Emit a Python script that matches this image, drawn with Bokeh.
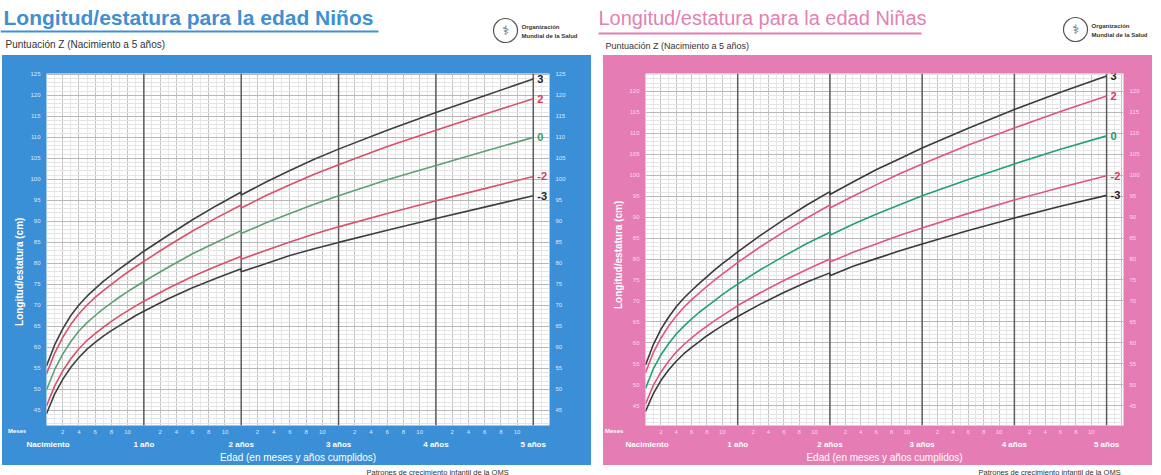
import math
from bokeh.plotting import figure
from bokeh.models import (Range1d, LinearAxis, FixedTicker, Grid, Span, Label,
                          Spacer, ColumnDataSource)
from bokeh.layouts import row, column
from bokeh.core.properties import value
from bokeh.embed import file_html
from bokeh.resources import INLINE

# ---------------- data (WHO length/height-for-age) ----------------
MONTHS = [0, 1, 2, 3, 4, 5, 6, 7, 8, 9, 10, 11, 12, 15, 18, 21, 24, 24, 27, 30, 33, 36, 42, 48, 54, 60]

BOYS_M3 = [44.2, 48.9, 52.4, 55.3, 57.6, 59.6, 61.2, 62.7, 64.0, 65.2, 66.4, 67.6, 68.6, 71.6, 74.2, 76.5,
           78.7, 78.0, 79.9, 81.9, 83.5, 85.0, 87.9, 90.7, 93.4, 96.1]
BOYS_M2 = [46.1, 50.8, 54.4, 57.3, 59.7, 61.7, 63.3, 64.8, 66.2, 67.5, 68.7, 69.9, 71.0, 74.1, 76.9, 79.4,
           81.7, 81.0, 83.1, 85.1, 87.0, 88.7, 91.9, 94.9, 97.8, 100.7]
BOYS_0 = [49.9, 54.7, 58.4, 61.4, 63.9, 65.9, 67.6, 69.2, 70.6, 72.0, 73.3, 74.5, 75.7, 79.1, 82.3, 85.1,
          87.8, 87.1, 89.6, 91.9, 94.1, 96.1, 99.9, 103.3, 106.7, 110.0]
BOYS_P2 = [53.7, 58.6, 62.4, 65.5, 68.0, 70.1, 71.9, 73.5, 75.0, 76.5, 77.9, 79.2, 80.5, 84.2, 87.7, 90.9,
           93.9, 93.2, 96.1, 98.7, 101.2, 103.5, 107.8, 111.7, 115.5, 119.2]
BOYS_P3 = [55.6, 60.6, 64.4, 67.6, 70.1, 72.2, 74.0, 75.7, 77.2, 78.7, 80.1, 81.5, 82.9, 86.7, 90.4, 93.8,
           97.0, 96.3, 99.3, 102.1, 104.8, 107.2, 111.7, 115.9, 119.9, 123.9]

GIRLS_M3 = [43.6, 47.8, 51.0, 53.5, 55.6, 57.4, 58.9, 60.3, 61.7, 62.9, 64.1, 65.2, 66.3, 69.3, 72.0, 74.5,
            76.7, 76.0, 78.3, 80.1, 81.9, 83.6, 86.8, 89.8, 92.6, 95.2]
GIRLS_M2 = [45.4, 49.8, 53.0, 55.6, 57.8, 59.6, 61.2, 62.7, 64.0, 65.3, 66.5, 67.7, 68.9, 72.0, 74.9, 77.5,
            80.0, 79.3, 81.6, 83.6, 85.6, 87.4, 90.9, 94.1, 97.1, 99.9]
GIRLS_0 = [49.1, 53.7, 57.1, 59.8, 62.1, 64.0, 65.7, 67.3, 68.7, 70.1, 71.5, 72.8, 74.0, 77.5, 80.7, 83.7,
           86.4, 85.7, 88.3, 90.7, 92.9, 95.1, 99.0, 102.7, 106.2, 109.4]
GIRLS_P2 = [52.9, 57.6, 61.1, 64.0, 66.4, 68.5, 70.3, 71.9, 73.5, 75.0, 76.4, 77.8, 79.2, 83.0, 86.5, 89.8,
            92.9, 92.2, 95.0, 97.7, 100.3, 102.7, 107.2, 111.3, 115.2, 118.9]
GIRLS_P3 = [54.7, 59.5, 63.2, 66.1, 68.6, 70.7, 72.5, 74.2, 75.8, 77.4, 78.9, 80.3, 81.7, 85.7, 89.4, 92.9,
            96.1, 95.4, 98.4, 101.3, 103.9, 106.5, 111.2, 115.7, 119.8, 123.7]

Z_LABELS = ["3", "2", "0", "-2", "-3"]
YEAR_MONTHS = [0, 12, 24, 36, 48, 60]
YEAR_LABELS = ["Nacimiento", "1 año", "2 años", "3 años", "4 años", "5 años"]
MONTH_TICK_LABELS = ["2", "4", "6", "8", "10"]
HEIGHT_TICKS = list(range(45, 126, 5))

FONT = "Liberation Sans"
BLUE = "#3a8fd6"
PINK = "#e57db4"
H_MAIN = 410
B_TOP = 18
B_BOTTOM = 37


def blank(width, height, bg="white"):
    p = figure(width=width, height=height, x_range=Range1d(0, width), y_range=Range1d(height, 0),
               toolbar_location=None, output_backend="svg", x_axis_location=None, y_axis_location=None,
               min_border=0, outline_line_color=None, background_fill_color=bg,
               border_fill_color=bg)
    p.xgrid.visible = False
    p.ygrid.visible = False
    return p


def make_header(width, height, title, title_color, title_style, title_size, tx, ty, ux0, ux1, uy,
                sub_x, sub_y, sub_size, logo_x, logo_y):
    p = blank(width, height)
    p.add_layout(Label(x=tx, y=ty, text=title, text_color=title_color, text_font=FONT,
                       text_font_style=title_style, text_font_size=title_size, text_baseline="middle"))
    p.segment(x0=[ux0], y0=[uy], x1=[ux1], y1=[uy], line_color=title_color, line_width=2)
    p.add_layout(Label(x=sub_x, y=sub_y, text="Puntuación Z (Nacimiento a 5 años)", text_color="#333333",
                       text_font=FONT, text_font_size=sub_size, text_baseline="middle"))
    p.scatter(x=[logo_x], y=[logo_y], marker="circle", size=24, fill_color=None, line_color="#555555",
              line_width=1.2)
    p.add_layout(Label(x=logo_x, y=logo_y, text="⚕", text_color="#555555", text_font="DejaVu Sans",
                       text_font_size="13px", text_align="center", text_baseline="middle"))
    p.add_layout(Label(x=logo_x + 16, y=logo_y - 4, text="Organización", text_color="#333333",
                       text_font=FONT, text_font_style="bold", text_font_size="6px",
                       text_baseline="middle"))
    p.add_layout(Label(x=logo_x + 16, y=logo_y + 5, text="Mundial de la Salud", text_color="#333333",
                       text_font=FONT, text_font_style="bold", text_font_size="6px",
                       text_baseline="middle"))
    return p


def make_footer(width, height, x):
    p = blank(width, height)
    p.add_layout(Label(x=x, y=0, text="Patrones de crecimiento infantil de la OMS", text_color="#333333",
                       text_font=FONT, text_font_size="7.5px", text_baseline="top"))
    return p


def plain_axis(ax):
    ax.axis_line_color = None
    ax.major_tick_line_color = None
    ax.minor_tick_line_color = None
    ax.major_tick_out = 0
    ax.major_tick_in = 0
    ax.minor_tick_out = 0
    ax.minor_tick_in = 0
    ax.major_label_text_font = FONT
    ax.major_label_text_line_height = 1.0
    return ax


def make_strip(width, yr, panel, label_x, label_y, meses_x):
    """Narrow panel left of the chart: y-axis title and the 'Meses' row label."""
    p = figure(width=width, height=H_MAIN, x_range=Range1d(0, width), y_range=Range1d(*yr),
               toolbar_location=None, output_backend="svg", x_axis_location=None, y_axis_location=None,
               min_border_left=0, min_border_right=0, min_border_top=B_TOP, min_border_bottom=B_BOTTOM,
               outline_line_color=None, background_fill_color=panel, border_fill_color=panel)
    p.xgrid.visible = False
    p.ygrid.visible = False
    p.add_layout(Label(x=label_x, y=label_y, text="Longitud/estatura (cm)", angle=math.pi / 2,
                       text_color="white", text_font=FONT, text_font_style="bold",
                       text_font_size="10px", text_align="center", text_baseline="middle"))
    ax = plain_axis(LinearAxis(ticker=FixedTicker(ticks=[meses_x]),
                               major_label_overrides={meses_x: "Meses"}))
    ax.major_label_text_color = "white"
    ax.major_label_text_font_style = "bold"
    ax.major_label_text_font_size = "6px"
    ax.major_label_standoff = 2
    p.add_layout(ax, "below")
    return p


def make_main(width, xr, yr, panel, tick_color, series, line_colors, label_colors, right_border):
    p = figure(width=width, height=H_MAIN, x_range=Range1d(*xr), y_range=Range1d(*yr),
               toolbar_location=None, output_backend="svg", x_axis_location=None, y_axis_location=None,
               min_border_left=20, min_border_right=right_border, min_border_top=B_TOP,
               min_border_bottom=B_BOTTOM,
               background_fill_color="white", border_fill_color=panel, outline_line_color=None)

    # grids
    x_major = list(range(0, int(xr[1]) + 1, 2))
    x_minor = list(range(0, int(xr[1]) + 1))
    y_minor = list(range(40, 126))
    p.add_layout(Grid(dimension=0, ticker=FixedTicker(ticks=x_major, minor_ticks=x_minor),
                      grid_line_color="#c4c4c4", grid_line_width=1,
                      minor_grid_line_color="#e6e6e6", minor_grid_line_width=1))
    p.add_layout(Grid(dimension=1, ticker=FixedTicker(ticks=HEIGHT_TICKS, minor_ticks=y_minor),
                      grid_line_color="#b8b8b8", grid_line_width=1,
                      minor_grid_line_color="#e4e4e4", minor_grid_line_width=1))
    for m in YEAR_MONTHS[1:]:
        p.add_layout(Span(location=m, dimension="height", line_color="#5c5c5c", line_width=1.5,
                          level="underlay"))

    # curves
    for s, c in zip(series, line_colors):
        p.line(MONTHS, s, line_color=c, line_width=1.6)

    src = ColumnDataSource(dict(x=[MONTHS[-1]] * len(series), y=[s[-1] for s in series],
                                t=Z_LABELS, c=label_colors))
    p.text(x="x", y="y", text="t", text_color="c", source=src, x_offset=4,
           text_font=value(FONT), text_font_style="bold", text_font_size="11px",
           text_baseline="middle", text_align="left")

    # y axes (both sides)
    for side in ("left", "right"):
        ax = plain_axis(LinearAxis(ticker=FixedTicker(ticks=HEIGHT_TICKS)))
        ax.major_label_text_color = tick_color
        ax.major_label_text_font_size = "6px"
        ax.major_label_standoff = 6
        p.add_layout(ax, side)

    # x axes: months, then years with the axis title
    m_ticks = [y + k for y in YEAR_MONTHS[:-1] for k in (2, 4, 6, 8, 10)]
    m_over = {t: MONTH_TICK_LABELS[i % 5] for i, t in enumerate(m_ticks)}
    ax_m = plain_axis(LinearAxis(ticker=FixedTicker(ticks=m_ticks), major_label_overrides=m_over))
    ax_y = plain_axis(LinearAxis(ticker=FixedTicker(ticks=YEAR_MONTHS),
                                 major_label_overrides={m: l for m, l in zip(YEAR_MONTHS, YEAR_LABELS)}))
    ax_m.major_label_text_font_size = "6px"
    ax_m.major_label_standoff = 4
    ax_m.major_label_text_color = tick_color
    ax_y.major_label_text_color = "white"
    ax_y.major_label_text_font_size = "8px"
    ax_y.major_label_text_font_style = "bold"
    ax_y.major_label_standoff = 3
    ax_y.axis_label = "Edad (en meses y años cumplidos)"
    ax_y.axis_label_text_color = "white"
    ax_y.axis_label_text_font = FONT
    ax_y.axis_label_text_font_style = "normal"
    ax_y.axis_label_text_font_size = "10px"
    ax_y.axis_label_text_line_height = 1.0
    ax_y.axis_label_standoff = 0
    p.add_layout(ax_m, "below")
    p.add_layout(ax_y, "below")
    return p


BOYS_Y = (41.42, 125.2)
GIRLS_Y = (40.27, 124.29)

hb = make_header(591, 55, "Longitud/estatura para la edad Niños", "#3f8fd2", "bold", "21px",
                 3, 17, 0, 378, 31, 5, 44, "10px", 505, 30)
hg = make_header(570, 55, "Longitud/estatura para la edad Niñas", "#e37fb3", "normal", "20px",
                 7, 17, 7, 330, 33, 14, 45, "9px", 484, 29)

sb = make_strip(24, BOYS_Y, BLUE, 17, 78, 15)
mb = make_main(565, (0, 62.0), BOYS_Y, BLUE, "#dbe9f8",
               [BOYS_P3, BOYS_P2, BOYS_0, BOYS_M2, BOYS_M3],
               ["#3f3f3f", "#d9506b", "#5e9f74", "#d9506b", "#3f3f3f"],
               ["#222222", "#d23c5a", "#3a9a5a", "#d23c5a", "#222222"], 42)
sg = make_strip(22, GIRLS_Y, PINK, 15, 81, 15)
mg = make_main(527, (0, 62.2), GIRLS_Y, PINK, "#f8d9ea",
               [GIRLS_P3, GIRLS_P2, GIRLS_0, GIRLS_M2, GIRLS_M3],
               ["#3a3a3a", "#e0557c", "#22a07a", "#e0557c", "#3a3a3a"],
               ["#222222", "#d8385f", "#1f9a6a", "#d8385f", "#222222"], 29)

fb = make_footer(591, 10, 366)
fg = make_footer(570, 10, 387)

boys_panel = row(sb, mb, styles={"background-color": BLUE})
girls_panel = row(sg, mg, styles={"background-color": PINK})

layout = column(row(hb, hg),
                row(Spacer(width=2, height=H_MAIN), boys_panel, Spacer(width=12, height=H_MAIN),
                    girls_panel),
                row(fb, fg))

open("out.html", "w").write(file_html(layout, INLINE))
